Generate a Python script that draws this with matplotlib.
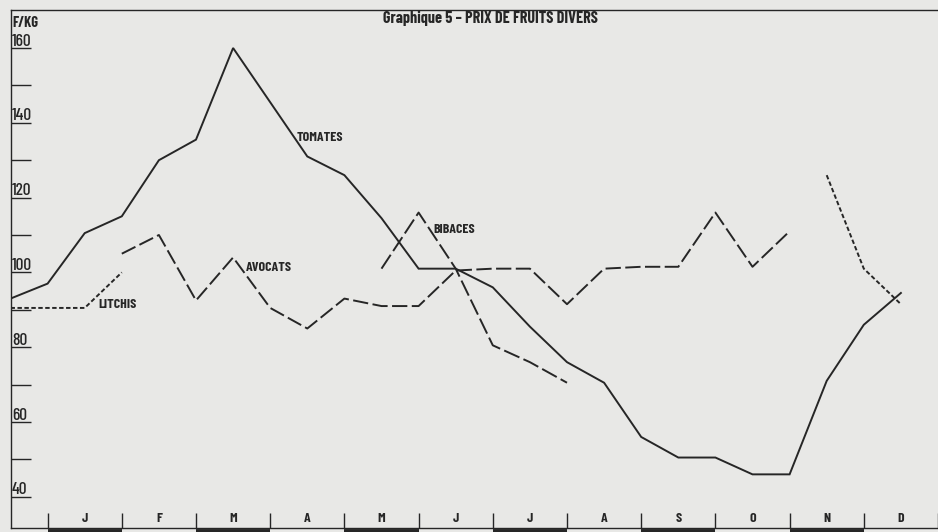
import matplotlib
matplotlib.use('Agg')
import matplotlib.pyplot as plt
from matplotlib import transforms

plt.rcParams['lines.scale_dashes'] = False
FONT = ['Barlow Condensed', 'DejaVu Sans']

# ---------------- data ----------------
months = ['J', 'F', 'M', 'A', 'M', 'J', 'J', 'A', 'S', 'O', 'N', 'D']
month_centers = [0.5, 1.5, 2.5, 3.5, 4.5, 5.5, 6.5, 7.5, 8.5, 9.5, 10.5, 11.5]
month_edges = [0, 1, 2, 3, 4, 5, 6, 7, 8, 9, 10, 11, 12]
bar_months = [0, 2, 4, 6, 8, 10]          # months underlined by a thick bar

y_major = [40, 60, 80, 100, 120, 140, 160]
y_minor = [50, 70, 90, 110, 130, 150]

tomates_x = [-0.5, 0.0, 0.5, 1.0, 1.5, 2.0, 2.5, 3.0, 3.5, 4.0, 4.5, 5.0, 5.5,
             6.0, 6.5, 7.0, 7.5, 8.0, 8.5, 9.0, 9.5, 10.0, 10.5, 11.0, 11.5]
tomates_y = [93, 97, 110.5, 115, 130, 135.5, 160, 145.5, 131, 126, 114.5, 101, 101,
             96, 85.5, 76, 70.5, 56, 50.5, 50.5, 46, 46, 71, 86, 94.5]

avocats_x = [1.0, 1.5, 2.0, 2.5, 3.0, 3.5, 4.0, 4.5, 5.0, 5.5, 6.0, 6.5, 7.0,
             7.5, 8.0, 8.5, 9.0, 9.5, 10.0]
avocats_y = [105, 110, 92.5, 104, 90.5, 85, 93, 91, 91, 100.5, 101, 101, 91.5,
             101, 101.5, 101.5, 116, 101.5, 111]

bibaces_x = [4.5, 5.0, 5.5, 6.0, 6.5, 7.0]
bibaces_y = [101, 116, 101, 80.5, 76, 70.5]

litchis1_x = [-0.5, 0.0, 0.5, 1.0]
litchis1_y = [90.5, 90.5, 90.5, 100]
litchis2_x = [10.5, 11.0, 11.5]
litchis2_y = [126, 101, 91.5]

# ---------------- figure ----------------
W, H = 938, 532
BG = '#e8e8e6'
INK = '#262626'
fig = plt.figure(figsize=(W / 100, H / 100), dpi=100)
fig.patch.set_facecolor(BG)

ax_left, ax_bottom, ax_top = 10.5, 528, 10   # pixel positions
ax = fig.add_axes([ax_left / W, (H - ax_bottom) / H, 1 - ax_left / W, (ax_bottom - ax_top) / H])
ax.set_facecolor(BG)

px_month, px_unit = 75.0, 3.74
xmin = -0.5
xmax = xmin + (W - ax_left) / px_month
ymin = 160 - (ax_bottom - 48) / px_unit
ymax = 160 + (48 - ax_top) / px_unit
ax.set_xlim(xmin, xmax)
ax.set_ylim(ymin, ymax)

for s in ['left', 'bottom', 'top']:
    ax.spines[s].set_color(INK)
    ax.spines[s].set_linewidth(1.0)
ax.spines['right'].set_visible(False)

# y ticks (drawn inward, labels sit on top of them like underlined numbers)
ax.set_yticks(y_major)
ax.set_yticks(y_minor, minor=True)
ax.tick_params(axis='y', which='both', direction='in', length=14.4, width=1.0,
               color=INK, labelleft=False)
for v in y_major:
    ax.annotate(str(v), xy=(xmin, v), xytext=(1.0, -0.5), textcoords='offset points',
                ha='left', va='bottom', fontsize=12.5, fontweight='medium', color=INK, family=FONT)

# x ticks at month edges, month letters inside
ax.set_xticks(month_edges)
ax.tick_params(axis='x', which='both', direction='in', length=11, width=1.0,
               color=INK, labelbottom=False)
tr = transforms.blended_transform_factory(ax.transData, ax.transAxes)
for c, m in zip(month_centers, months):
    ax.text(c, 9 / (ax_bottom - ax_top), m, transform=tr, ha='center', va='center',
            fontsize=10, fontweight='bold', color=INK, family=FONT)
for m0 in bar_months:
    ax.plot([m0, m0 + 1], [-2.5 / (ax_bottom - ax_top)] * 2, transform=tr,
            color=INK, lw=2.8, solid_capstyle='butt', clip_on=False)

# ---------------- series ----------------
lw = 1.4
ax.plot(tomates_x, tomates_y, color=INK, lw=lw, solid_joinstyle='miter')
l, = ax.plot(avocats_x, avocats_y, color=INK, lw=lw)
l.set_dashes((11, 3.2))
l, = ax.plot(bibaces_x, bibaces_y, color=INK, lw=lw)
l.set_dashes((12, 3.2))
for lx, ly in [(litchis1_x, litchis1_y), (litchis2_x, litchis2_y)]:
    l, = ax.plot(lx, ly, color=INK, lw=lw)
    l.set_dashes((3.2, 1.8))

# ---------------- labels ----------------
lab_kw = dict(fontsize=10, fontweight='bold', color=INK, family=FONT, va='center', ha='left')
ax.text(3.35, 136.2, 'TOMATES', **lab_kw)
ax.text(2.67, 101.4, 'AVOCATS', **lab_kw)
ax.text(5.2, 111.6, 'BIBACES', **lab_kw)
ax.text(0.69, 91.3, 'LITCHIS', **lab_kw)
ax.annotate('F/KG', xy=(xmin, 166.8), xytext=(1.0, 0), textcoords='offset points',
            ha='left', va='center', fontsize=10.5, fontweight='bold', color=INK, family=FONT)

fig.text(490 / W, 1 - 18 / H, 'Graphique 5 – PRIX DE FRUITS DIVERS', ha='center', va='center',
         fontsize=11.6, fontweight='bold', color=INK, family=FONT)

fig.savefig('out.png', dpi=100, facecolor=BG)
